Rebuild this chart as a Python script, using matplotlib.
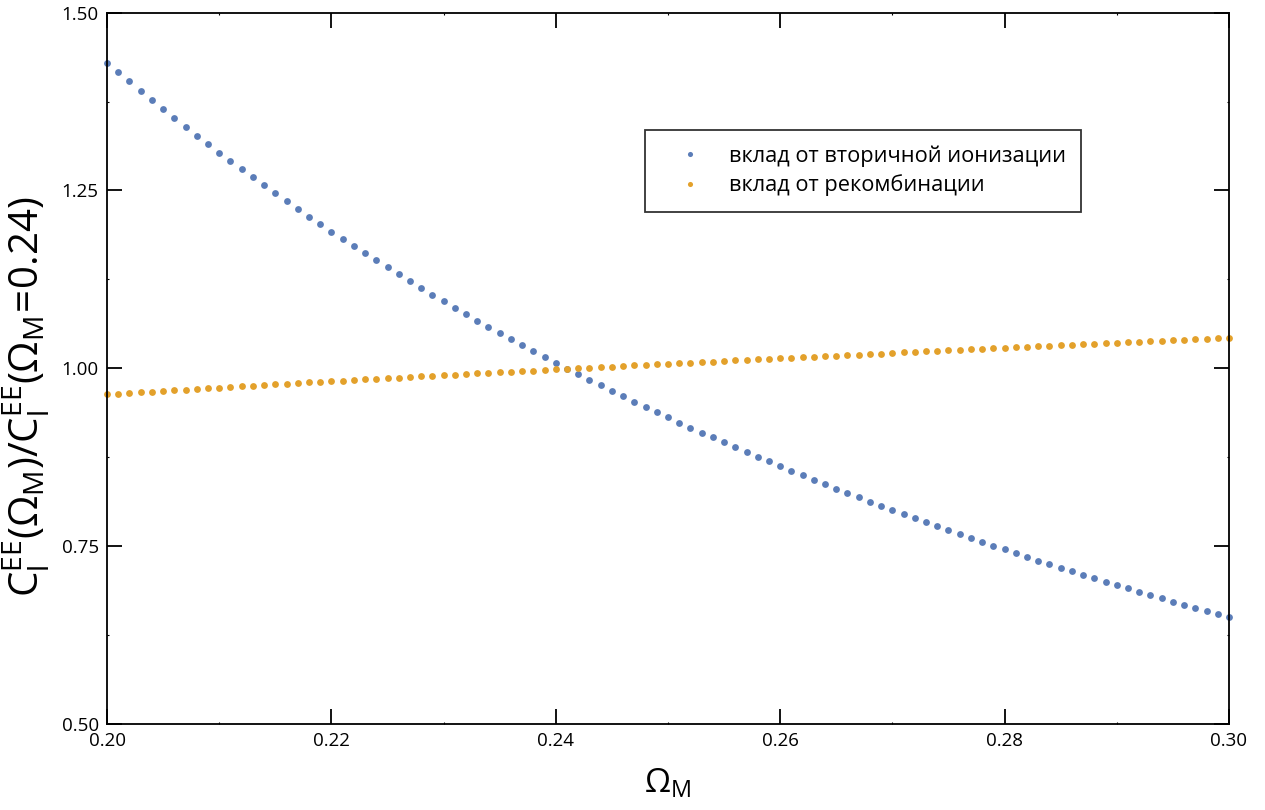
import numpy as np
import matplotlib
matplotlib.use("Agg")
import matplotlib.pyplot as plt
from matplotlib.ticker import MultipleLocator

plt.rcParams['font.family'] = ['Open Sans', 'DejaVu Sans']
plt.rcParams['mathtext.fontset'] = 'custom'
plt.rcParams['mathtext.rm'] = 'Open Sans'
plt.rcParams['mathtext.it'] = 'Open Sans'

# Omega_M от 0.200 до 0.300 с шагом 0.001
omega_m = np.round(np.arange(0.200, 0.3005, 0.001), 3)

# вклад от вторичной ионизации
reion = [
    1.4297, 1.4166, 1.4035, 1.3903, 1.3772, 1.3646, 1.3519, 1.3392, 1.3270, 1.3149,
    1.3031, 1.2914, 1.2797, 1.2685, 1.2572, 1.2460, 1.2347, 1.2239, 1.2131, 1.2024,
    1.1920, 1.1817, 1.1719, 1.1616, 1.1517, 1.1419, 1.1320, 1.1227, 1.1128, 1.1034,
    1.0941, 1.0851, 1.0758, 1.0669, 1.0584, 1.0500, 1.0411, 1.0326, 1.0242, 1.0158,
    1.0078, 0.9996, 0.9914, 0.9834, 0.9759, 0.9684, 0.9604, 0.9529, 0.9454, 0.9379,
    0.9309, 0.9234, 0.9164, 0.9093, 0.9028, 0.8957, 0.8892, 0.8821, 0.8756, 0.8690,
    0.8625, 0.8559, 0.8493, 0.8432, 0.8371, 0.8306, 0.8245, 0.8184, 0.8123, 0.8062,
    0.8006, 0.7949, 0.7888, 0.7832, 0.7776, 0.7720, 0.7663, 0.7607, 0.7556, 0.7499,
    0.7452, 0.7401, 0.7345, 0.7293, 0.7242, 0.7195, 0.7143, 0.7092, 0.7049, 0.6998,
    0.6951, 0.6905, 0.6857, 0.6810, 0.6764, 0.6716, 0.6674, 0.6628, 0.6585, 0.6539,
    0.6497,
]

# вклад от рекомбинации
recomb = [
    0.9633, 0.9642, 0.9652, 0.9661, 0.9671, 0.9680, 0.9689, 0.9699, 0.9708, 0.9717,
    0.9727, 0.9736, 0.9745, 0.9754, 0.9763, 0.9773, 0.9782, 0.9791, 0.9800, 0.9809,
    0.9818, 0.9826, 0.9835, 0.9843, 0.9852, 0.9860, 0.9869, 0.9877, 0.9886, 0.9894,
    0.9903, 0.9911, 0.9919, 0.9927, 0.9936, 0.9944, 0.9952, 0.9960, 0.9968, 0.9977,
    0.9985, 0.9993, 1.0001, 1.0008, 1.0016, 1.0024, 1.0032, 1.0040, 1.0047, 1.0055,
    1.0063, 1.0071, 1.0078, 1.0086, 1.0093, 1.0101, 1.0109, 1.0116, 1.0124, 1.0131,
    1.0139, 1.0147, 1.0154, 1.0162, 1.0169, 1.0177, 1.0185, 1.0192, 1.0200, 1.0207,
    1.0215, 1.0222, 1.0229, 1.0237, 1.0244, 1.0251, 1.0259, 1.0266, 1.0273, 1.0281,
    1.0288, 1.0295, 1.0302, 1.0310, 1.0317, 1.0324, 1.0332, 1.0339, 1.0346, 1.0353,
    1.0360, 1.0367, 1.0374, 1.0381, 1.0388, 1.0395, 1.0402, 1.0408, 1.0415, 1.0422,
    1.0429,
]

fig = plt.figure(figsize=(12.65, 8.1), dpi=100)
ax = fig.add_axes([0.0846, 0.1065, 0.8869, 0.8778])

ax.plot(omega_m, reion, 'o', ms=4.9, color='#5b7db8', mec='none', clip_on=False,
        label='вклад от вторичной ионизации')
ax.plot(omega_m, recomb, 'o', ms=4.9, color='#e3a12b', mec='none', clip_on=False,
        label='вклад от рекомбинации')

ax.set_xlim(0.2, 0.3)
ax.set_ylim(0.5, 1.5)
ax.xaxis.set_major_locator(MultipleLocator(0.02))
ax.xaxis.set_minor_locator(MultipleLocator(0.01))
ax.yaxis.set_major_locator(MultipleLocator(0.25))
ax.yaxis.set_minor_locator(MultipleLocator(0.125))
ax.xaxis.set_major_formatter(lambda v, p: f'{v:.2f}')
ax.yaxis.set_major_formatter(lambda v, p: f'{v:.2f}')

ax.tick_params(which='major', direction='in', length=11, width=1.3,
               top=True, right=True, labelsize=13.5, pad=6)
ax.tick_params(which='minor', direction='in', length=1.5, width=0.8,
               top=True, right=True)
for s in ax.spines.values():
    s.set_linewidth(1.3)

ax.set_xlabel(r'$\mathrm{\Omega_M}$', fontsize=24, labelpad=12)
ax.set_ylabel(r'$\mathrm{C_l^{EE}(\Omega_M)/C_l^{EE}(\Omega_M\!=\!0.24)}$',
              fontsize=29)
ax.yaxis.set_label_coords(-0.049, 0.46)

leg = ax.legend(loc='upper left', bbox_to_anchor=(0.4795, 0.835), fontsize=15.7,
                markerscale=0.75, frameon=True, fancybox=False, edgecolor='black',
                borderpad=0.7, handlelength=2.7, handletextpad=0.45,
                labelspacing=0.35, borderaxespad=0)
leg.get_frame().set_linewidth(1.3)

fig.savefig('out.png', dpi=100)
